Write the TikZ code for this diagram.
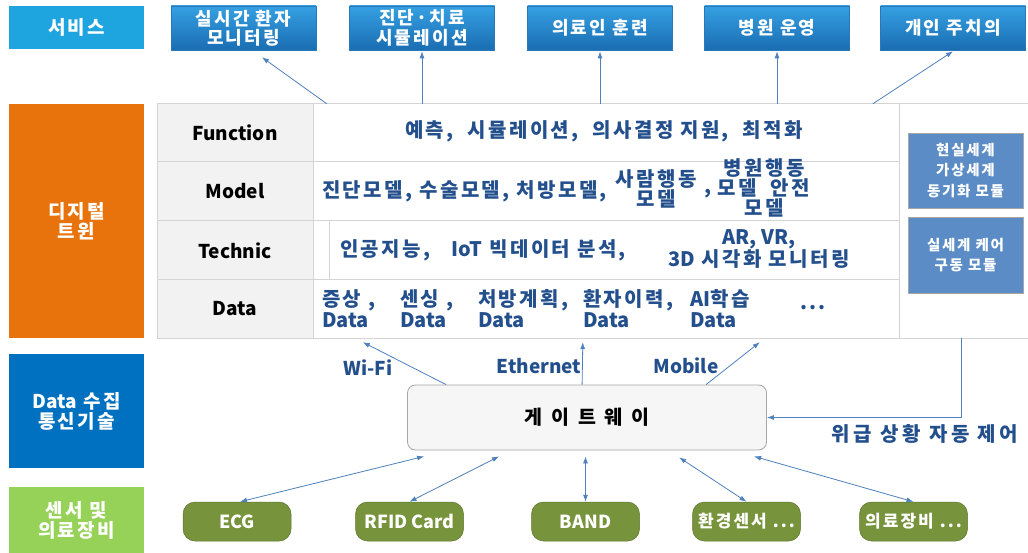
\documentclass[tikz,border=0pt]{standalone}
\usepackage{fontspec}
\setmainfont{Noto Sans CJK KR}
\newcommand{\krsp}{\addfontfeature{LetterSpace=12}}
\newcommand{\latsp}[1]{{\addfontfeature{LetterSpace=0}#1}}
\usetikzlibrary{arrows.meta,calc}
\definecolor{svclab}{HTML}{1EA5E0}
\definecolor{svctop}{HTML}{35A0E2}
\definecolor{svcbot}{HTML}{1A6DB2}
\definecolor{svcedge}{HTML}{2A78BA}
\definecolor{orng}{HTML}{E8720C}
\definecolor{commblue}{HTML}{0070C0}
\definecolor{lgreen}{HTML}{96D257}
\definecolor{olive}{HTML}{77933C}
\definecolor{modblue}{HTML}{5B8CC5}
\definecolor{dblue}{HTML}{234F8C}
\definecolor{arrc}{HTML}{4F81BD}
\definecolor{gridc}{HTML}{D4D4D4}
\definecolor{hdrfill}{HTML}{F2F2F2}
\definecolor{gwfill}{HTML}{F6F6F6}
\definecolor{gwedge}{HTML}{A6A6A6}
\tikzset{
  catbox/.style={minimum width=135pt, inner sep=0pt, text=white, align=center,
    font=\bfseries\fontsize{19}{20}\selectfont\krsp},
  svcbox/.style={minimum width=145pt, minimum height=44pt, inner sep=0pt, align=center,
    top color=svctop, bottom color=svcbot, draw=svcedge, line width=0.6pt, text=white,
    font=\bfseries\fontsize{18}{19.5}\selectfont\krsp},
  hdr/.style={font=\bfseries\fontsize{19}{20}\selectfont, text=black},
  cnt/.style={font=\bfseries\fontsize{20}{21}\selectfont\krsp, text=dblue, inner sep=0pt},
  modbox/.style={minimum width=115pt, inner sep=0pt, fill=modblue, draw=gwedge, line width=0.8pt,
    text=white, align=center, font=\bfseries\fontsize{14.5}{20.5}\selectfont\krsp},
  gwbox/.style={minimum width=359pt, minimum height=65pt, rounded corners=8pt, fill=gwfill,
    draw=gwedge, line width=0.8pt, font=\bfseries\fontsize{19.5}{21}\selectfont\krsp},
  commlab/.style={font=\bfseries\fontsize{19}{20}\selectfont, text=dblue},
  devbox/.style={minimum width=108pt, minimum height=39pt, rounded corners=12pt, fill=olive,
    draw=olive!80!black, line width=0.5pt, text=white, inner sep=0pt,
    font=\bfseries\fontsize{18}{19}\selectfont},
  kdev/.style={font=\bfseries\fontsize{17}{19}\selectfont\krsp},
  arr/.style={draw=arrc, line width=0.8pt, -{Latex[length=7pt,width=5pt]}},
  darr/.style={draw=arrc, line width=0.8pt, {Latex[length=7pt,width=5pt]}-{Latex[length=7pt,width=5pt]}},
  gridline/.style={draw=gridc, line width=1pt},
  datacol/.style={cnt, anchor=north west, align=left, font=\bfseries\fontsize{20}{21.5}\selectfont\krsp}
}
\begin{document}
\begin{tikzpicture}[x=1pt,y=-1pt]
\useasboundingbox (0,0) rectangle (1028,553);
\fill[white] (0,0) rectangle (1028,553);

% category labels
\node[catbox, fill=svclab, minimum height=43pt] (c1) at (76.5,27.5) {서비스};
\node[catbox, fill=orng, minimum height=234pt] (c2) at (76.5,221) {디지털\\트윈};
\node[catbox, fill=commblue, minimum height=114pt] (c3) at (76.5,411) {\latsp{Data} 수집\\통신기술};
\node[catbox, fill=lgreen, minimum height=66pt] (c4) at (76.5,520) {센서 및\\의료장비};

% service boxes
\node[svcbox] (s1) at (243.5,28) {실시간 환자\\모니터링};
\node[svcbox] (s2) at (422,28) {진단·치료\\시뮬레이션};
\node[svcbox] (s3) at (600,28) {의료인 훈련};
\node[svcbox] (s4) at (777,28) {병원 운영};
\node[svcbox] (s5) at (953,28) {개인 주치의};

% table
\node[minimum width=868pt, minimum height=234pt, inner sep=0pt, fill=white] (tbl) at (591,221) {};
\fill[hdrfill] (157,104) rectangle (313,338);
\draw[gridline] (1040,104) -- (157,104) -- (157,338) -- (1040,338);
\draw[gridline] (313,104) -- (313,338);
\draw[gridline] (899,104) -- (899,338);
\draw[gridline] (157,162) -- (899,162);
\draw[gridline] (157,221) -- (899,221);
\draw[gridline] (157,280) -- (899,280);
\draw[gridline] (329,221) -- (329,280);

\node[hdr] (hf) at (235,133) {Function};
\node[hdr] (hm) at (235,191.5) {Model};
\node[hdr] (ht) at (235,250.5) {Technic};
\node[hdr] (hd) at (235,309) {Data};

\node[cnt] (f1) at (604,131) {예측,\ \ 시뮬레이션,\ \ 의사결정 지원,\ \ 최적화};

\node[cnt, anchor=west] (m1) at (322,191) {진단모델, 수술모델, 처방모델,};
\node[cnt, align=center, font=\bfseries\fontsize{20}{17}\selectfont\krsp] (m2) at (656,189) {사람행동\\모델};
\node[cnt] (m3) at (708,194) {,};
\node[cnt, align=center, font=\bfseries\fontsize{20}{15.5}\selectfont\krsp] (m4) at (764,188) {병원행동\\모델\ \ 안전\\모델};

\node[cnt, anchor=west] (t1) at (340,250) {인공지능,\ \ \ \latsp{IoT} 빅데이터 분석,};
\node[cnt, align=center, font=\bfseries\fontsize{20}{13.5}\selectfont\krsp] (t2) at (759,249) {\latsp{AR, VR,}\\\latsp{3D} 시각화 모니터링};

\node[datacol] (d1) at (322,289) {증상 ,\\\latsp{Data}};
\node[datacol] (d2) at (400,289) {센싱 ,\\\latsp{Data}};
\node[datacol] (d3) at (478,289) {처방계획,\\\latsp{Data}};
\node[datacol] (d4) at (583,289) {환자이력,\\\latsp{Data}};
\node[datacol] (d5) at (690,289) {\latsp{AI}학습\\\latsp{Data}};
\node[cnt] (d6) at (813,308) {...};

% modules
\node[modbox, minimum height=75pt] (mod1) at (965.5,170.5) {현실세계\\가상세계\\동기화 모듈};
\node[modbox, minimum height=76pt] (mod2) at (965.5,255) {실세계 케어\\구동 모듈};

% arrows to services
\draw[arr] ([xshift=170pt]tbl.north west) -- ([xshift=18.5pt,yshift=-7pt]s1.south);
\draw[arr] (tbl.north -| s2.south) -- ([yshift=-1pt]s2.south);
\draw[arr] (tbl.north -| s3.south) -- ([yshift=-1pt]s3.south);
\draw[arr] (tbl.north -| s4.south) -- ([yshift=-1pt]s4.south);
\draw[arr] ([xshift=716pt]tbl.north west) -- ([yshift=-1pt]s5.south);

% gateway
\node[gwbox] (gw) at (587,417.5) {게\hspace{9pt}이\hspace{9pt}트\hspace{9pt}웨\hspace{9pt}이};

\node[commlab] (wifi) at (368,368) {Wi-Fi};
\node[commlab] (eth) at (539,366) {Ethernet};
\node[commlab] (mob) at (686,366) {Mobile};

\draw[arr] ([xshift=39pt]gw.north west) -- ([xshift=206pt,yshift=-4pt]tbl.south west);
\draw[arr] ([xshift=175pt]gw.north west) -- ([xshift=426pt,yshift=-4pt]tbl.south west);
\draw[arr] ([xshift=299pt]gw.north west) -- ([xshift=603pt,yshift=-4pt]tbl.south west);

\draw[arr] ([xshift=805pt]tbl.south west) |- (gw.east);
\node[commlab, font=\bfseries\fontsize{20}{21}\selectfont\addfontfeature{LetterSpace=18}] (emg) at (925,434) {위급 상황 자동 제어};

% devices
\node[devbox] (ecg) at (237,521.5) {ECG};
\node[devbox] (rfid) at (409.5,521.5) {RFID Card};
\node[devbox] (band) at (585.5,521.5) {BAND};
\node[devbox, kdev] (env) at (746.5,521.5) {환경센서 ...};
\node[devbox, kdev] (med) at (913.5,521.5) {의료장비 ...};

\draw[darr] ([xshift=3pt]ecg.north) -- ([xshift=17pt,yshift=-6pt]gw.south west);
\draw[darr] (rfid.north) -- ([xshift=92pt,yshift=-6pt]gw.south west);
\draw[darr] (band.north) -- ([yshift=-6pt]gw.south -| band.north);
\draw[darr] (env.north) -- ([xshift=272pt,yshift=-7pt]gw.south west);
\draw[darr] (med.north) -- ([xshift=347pt,yshift=-6pt]gw.south west);
\end{tikzpicture}
\end{document}
